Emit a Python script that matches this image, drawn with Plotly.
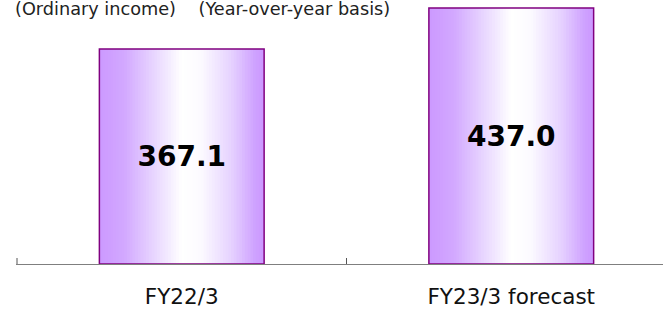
import plotly.graph_objects as go

categories = ["FY22/3", "FY23/3 forecast"]
values = [367.1, 437.0]
value_labels = ["367.1", "437.0"]
title_left = "(Ordinary income)"
title_right = "(Year-over-year basis)"

# horizontal gradient stops (position, rgb)
stops = [(0.0, (204, 153, 255)), (0.15, (210, 168, 255)), (0.35, (234, 218, 255)),
         (0.5, (255, 255, 255)), (0.62, (252, 250, 255)), (0.8, (230, 210, 255)),
         (0.95, (206, 160, 255)), (1.0, (204, 153, 255))]


def grad(t):
    for (p0, c0), (p1, c1) in zip(stops[:-1], stops[1:]):
        if p0 <= t <= p1:
            f = (t - p0) / (p1 - p0) if p1 > p0 else 0
            return "rgb(%d,%d,%d)" % tuple(round(a + (b - a) * f) for a, b in zip(c0, c1))
    return "rgb(%d,%d,%d)" % stops[-1][1]


BW = 0.5
N = 60
fig = go.Figure()
for i in range(N):
    t = (i + 0.5) / N
    fig.add_trace(go.Bar(
        x=categories, y=values,
        width=BW / N * 1.8 if i < N - 1 else BW / N,
        offset=-BW / 2 + i * BW / N,
        marker=dict(color=grad(t), line=dict(width=0)),
        hoverinfo="skip", showlegend=False,
    ))

fig.add_trace(go.Bar(
    x=categories, y=values, width=BW,
    marker=dict(color="rgba(0,0,0,0)", line=dict(color="#800080", width=1.5)),
    text=value_labels, textposition="inside", insidetextanchor="middle",
    textfont=dict(family="DejaVu Sans", size=28, color="#000000", weight="bold"),
    textangle=0, showlegend=False,
))

fig.add_annotation(
    text=title_left + "\u00a0\u00a0\u00a0\u00a0" + title_right,
    xref="paper", yref="paper", x=-3 / 647, y=(264 - 9) / 264,
    xanchor="left", yanchor="middle", showarrow=False,
    font=dict(family="DejaVu Sans", size=17.7, color="#222222"),
)

# tick mark at the left category boundary
fig.add_shape(type="line", xref="x", yref="y", x0=-0.5, x1=-0.5,
              ysizemode="pixel", yanchor=0, y0=0, y1=6,
              line=dict(color="#555555", width=1))

fig.update_layout(
    width=663, height=309,
    margin=dict(l=16, r=0, t=0, b=45, autoexpand=False),
    paper_bgcolor="white", plot_bgcolor="white",
    barmode="overlay", showlegend=False,
    xaxis=dict(
        type="category", range=[-0.5 - 1 / 329, 1.5 - 13 / 329],
        tickson="boundaries", ticks="inside", ticklen=6, tickcolor="#555555",
        showline=True, linecolor="#7f7f7f", linewidth=1,
        showgrid=False, zeroline=False, automargin=False,
        tickfont=dict(family="DejaVu Sans", size=21.5, color="#111111"),
        ticklabelstandoff=13,
    ),
    yaxis=dict(range=[0, 450.7], visible=False, showgrid=False, zeroline=False),
)

fig.write_html("out.html", config={"displayModeBar": False},
               post_script="document.body.style.margin='0';document.body.style.padding='0';")
